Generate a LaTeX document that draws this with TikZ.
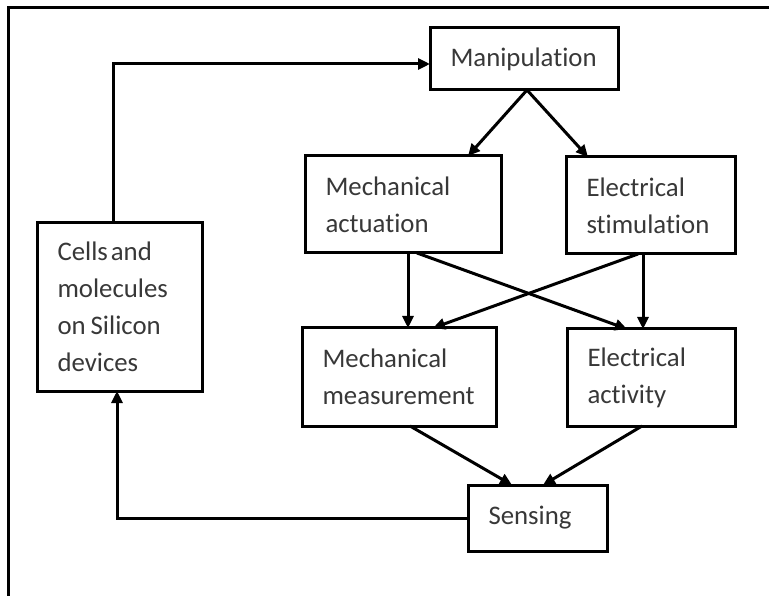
\documentclass[tikz,border=0pt]{standalone}
\usepackage{fontspec}
\setmainfont{Carlito}[Ligatures=NoCommon]
\usetikzlibrary{arrows.meta}
\hyphenpenalty=10000
\exhyphenpenalty=10000
\begin{document}
\begin{tikzpicture}[x=1pt,y=-1pt,
  box/.style={draw=black,line width=3pt,fill=white,outer sep=0pt,inner ysep=0pt,inner xsep=20.5pt,
    align=left,text=black!78,
    font=\fontsize{26.8}{37}\selectfont},
  arr/.style={line width=3pt,-{Triangle[length=12pt,width=11pt]}},
  frame/.style={line width=3pt}]
\useasboundingbox (0,0) rectangle (769,596);
% outer frame (open at right and bottom)
\coordinate (f1) at (8,596);
\coordinate (f2) at (8,8);
\coordinate (f3) at (769,8);
\draw[frame] (f1) -- (f2) -- (f3);
% boxes
\node[box,minimum width=188pt,minimum height=62pt,text width=147pt] (man) at (524,59) {Manipulation};
\node[box,minimum width=196pt,minimum height=97pt,text width=155pt] (ma) at (403,204.5) {Mechanical\\actuation};
\node[box,minimum width=169pt,minimum height=97pt,text width=128pt] (es) at (650.5,205.5) {Electrical\\stimulation};
\node[box,minimum width=194pt,minimum height=98pt,text width=153pt] (mm) at (399,377) {Mechanical\\measurement};
\node[box,minimum width=168pt,minimum height=97pt,text width=127pt] (ea) at (651,377.5) {Electrical\\activity};
\node[box,minimum width=139pt,minimum height=66pt,text width=98pt] (sen) at (537.5,518) {Sensing};
\node[box,minimum width=165pt,minimum height=168pt,text width=124pt] (cells) at (119.5,307) {Cells\hspace{3pt}and\\molecules\\on\hspace{5pt}Silicon\\devices};
% connectors
\draw[arr] ([xshift=-6pt]cells.north) |- ([yshift=-5pt]man.west);
\draw[arr] ([xshift=3pt]man.south) -- ([xshift=65pt]ma.north);
\draw[arr] ([xshift=3pt]man.south) -- ([xshift=-62.5pt]es.north);
\draw[arr] ([xshift=5pt]ma.south) -- ([xshift=5pt]ma.south |- mm.north);
\draw[arr] ([xshift=14pt]ma.south) -- ([xshift=-24pt]ea.north);
\draw[arr] ([xshift=-12.5pt]es.south) -- ([xshift=34pt]mm.north);
\draw[arr] ([xshift=-7.5pt]es.south) -- ([xshift=-7.5pt]es.south |- ea.north);
\draw[arr] ([xshift=11pt]mm.south) -- ([xshift=-25.5pt]sen.north);
\draw[arr] ([xshift=-9pt]ea.south) -- ([xshift=5.5pt]sen.north);
\draw[arr] (sen.west) -| ([xshift=-2.5pt]cells.south);
\end{tikzpicture}
\end{document}
